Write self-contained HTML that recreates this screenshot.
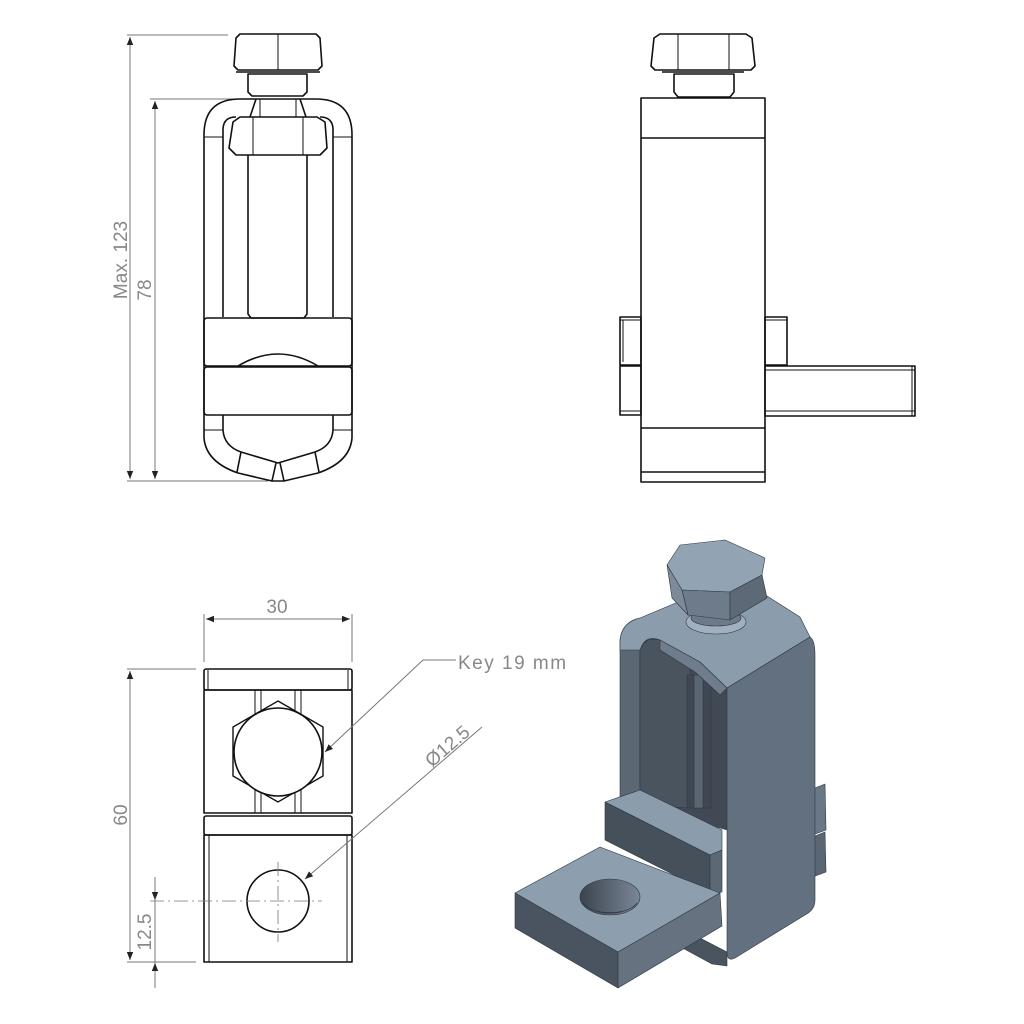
<!DOCTYPE html>
<html><head><meta charset="utf-8"><style>
html,body{margin:0;padding:0;background:#fff;}
svg{display:block;}
.k{fill:none;stroke:#111;stroke-width:1.6;stroke-linejoin:round;}
.t{fill:none;stroke:#111;stroke-width:1;}
.d{fill:none;stroke:#777;stroke-width:1;}
.c{fill:none;stroke:#777;stroke-width:0.8;stroke-dasharray:14 4 2 4;}
.txt{font-family:"Liberation Sans",sans-serif;fill:#888;font-size:19px;font-weight:300;}
</style></head><body>
<svg width="1024" height="1024" viewBox="0 0 1024 1024" xmlns="http://www.w3.org/2000/svg">
<defs>
<marker id="a" viewBox="0 0 10 10" refX="10" refY="5" markerWidth="10" markerHeight="8" orient="auto-start-reverse" markerUnits="userSpaceOnUse"><path d="M0,1 L10,5 L0,9 z" fill="#222"/></marker>
<linearGradient id="h" x1="0" x2="1"><stop offset="0" stop-color="#3b444e"/><stop offset="1" stop-color="#7a8797"/></linearGradient>
</defs>

<!-- ===== Top-left view ===== -->
<line class="d" x1="127" y1="35" x2="228" y2="35"/>
<line class="d" x1="150" y1="99" x2="240" y2="99"/>
<line class="d" x1="127" y1="481" x2="268" y2="481"/>
<line class="d" x1="130" y1="37" x2="130" y2="479" marker-start="url(#a)" marker-end="url(#a)"/>
<line class="d" x1="155" y1="101" x2="155" y2="479" marker-start="url(#a)" marker-end="url(#a)"/>
<text class="txt" transform="translate(127,260) rotate(-90)" text-anchor="middle">Max. 123</text>
<text class="txt" transform="translate(151,290) rotate(-90)" text-anchor="middle">78</text>

<path class="k" d="M236,38 L240,34 L316,34 L320,38 L322,66 L318,70 L238,70 L234,66 Z"/>
<line class="t" x1="278" y1="34" x2="278" y2="70"/>
<line class="k" x1="236" y1="72" x2="320" y2="72"/>
<path class="k" d="M248,74 L307,74 L307,92 L303,96 L252,96 L248,92 Z"/>
<path class="k" d="M204,415 L204,135 Q204,99 240,99 L316,99 Q352,99 352,135 L352,415"/>
<path class="k" d="M223,317 L223,130 Q223,117 236,117 M333,317 L333,130 Q333,117 320,117"/>
<line class="t" x1="204" y1="137" x2="223" y2="137"/><line class="t" x1="333" y1="137" x2="352" y2="137"/>
<path class="k" d="M256,99 L250,117 M300,99 L306,117"/>
<line class="t" x1="260" y1="99" x2="260" y2="117"/><line class="t" x1="296" y1="99" x2="296" y2="117"/>
<path class="k" d="M233,122 L240,117 L317,117 L325,122 L327,148 L320,155 L236,155 L229,148 Z"/>
<line class="t" x1="253" y1="117" x2="253" y2="155"/><line class="t" x1="303" y1="117" x2="303" y2="155"/>
<path class="k" d="M248,155 L248,314 L251,318 L304,318 L307,314 L307,155"/>
<rect class="k" x="204" y="318" width="148" height="48" rx="3"/>
<path class="k" d="M238,366 Q278,342 318,366"/>
<rect class="k" x="204" y="367" width="148" height="48" rx="3"/>
<path class="k" d="M204,415 L204,438 Q206,462 238,473 L272,481 L284,481 L318,473 Q350,462 352,438 L352,415"/>
<path class="k" d="M223,415 L223,430 Q224,446 241,452 L278,463 L315,452 Q332,446 333,430 L333,415"/>
<line class="t" x1="204" y1="430" x2="223" y2="430"/><line class="t" x1="333" y1="430" x2="352" y2="430"/>
<line class="k" x1="241" y1="452" x2="237" y2="472"/><line class="k" x1="315" y1="452" x2="319" y2="472"/>
<line class="k" x1="276" y1="463" x2="272" y2="481"/><line class="k" x1="280" y1="463" x2="284" y2="481"/>

<!-- ===== Top-right view ===== -->
<path class="k" d="M654,38 L660,34 L746,34 L752,38 L755,66 L751,70 L655,70 L651,66 Z"/>
<line class="t" x1="678" y1="34" x2="678" y2="70"/><line class="t" x1="729" y1="34" x2="729" y2="70"/>
<line class="k" x1="662" y1="72" x2="744" y2="72"/>
<path class="k" d="M674,74 L734,74 L734,92 L730,97 L678,97 L674,92 Z"/>
<rect class="k" x="641" y="98" width="124" height="384"/>
<line class="k" x1="641" y1="138" x2="765" y2="138"/>
<line class="k" x1="641" y1="428" x2="765" y2="428"/>
<line class="k" x1="641" y1="472" x2="765" y2="472"/>
<rect class="k" x="620" y="317" width="21" height="48"/>
<line class="t" x1="623" y1="320" x2="623" y2="362"/><line class="t" x1="620" y1="320" x2="641" y2="320"/>
<rect class="k" x="620" y="366" width="21" height="49"/>
<line class="t" x1="620" y1="411" x2="641" y2="411"/>
<rect class="k" x="765" y="317" width="22" height="48"/>
<line class="t" x1="765" y1="320" x2="787" y2="320"/>
<rect class="k" x="765" y="366" width="150" height="50"/>
<line class="t" x1="765" y1="370" x2="915" y2="370"/><line class="t" x1="765" y1="411" x2="915" y2="411"/>
<line class="t" x1="912" y1="366" x2="912" y2="416"/>

<!-- ===== Bottom-left view ===== -->
<line class="d" x1="204" y1="614" x2="204" y2="662"/>
<line class="d" x1="352" y1="614" x2="352" y2="662"/>
<line class="d" x1="206" y1="619" x2="350" y2="619" marker-start="url(#a)" marker-end="url(#a)"/>
<text class="txt" x="277" y="613" text-anchor="middle">30</text>

<rect class="k" x="204" y="669" width="148" height="21" rx="2"/>
<line class="t" x1="208" y1="670" x2="208" y2="689"/><line class="t" x1="348" y1="670" x2="348" y2="689"/>
<rect class="k" x="204" y="690" width="148" height="123"/>
<line class="t" x1="255" y1="690" x2="255" y2="813"/><line class="t" x1="261" y1="690" x2="261" y2="813"/>
<line class="t" x1="295" y1="690" x2="295" y2="813"/><line class="t" x1="301" y1="690" x2="301" y2="813"/>
<polygon points="278,701 323,727 323,776 278,802 233,776 233,727" fill="#fff" stroke="#111" stroke-width="1.4"/>
<circle cx="278" cy="752" r="44" fill="#fff" stroke="#111" stroke-width="1.6"/>
<rect class="k" x="204" y="816" width="148" height="19" rx="2"/>
<rect class="k" x="204" y="835" width="148" height="127"/>
<line class="t" x1="209" y1="835" x2="209" y2="962"/><line class="t" x1="347" y1="835" x2="347" y2="962"/>
<circle class="k" cx="278" cy="901" r="31"/>
<line class="c" x1="150" y1="901" x2="322" y2="901"/>
<line class="c" x1="278" y1="862" x2="278" y2="942"/>

<line class="d" x1="127" y1="669" x2="196" y2="669"/>
<line class="d" x1="127" y1="962" x2="196" y2="962"/>
<line class="d" x1="130" y1="671" x2="130" y2="960" marker-start="url(#a)" marker-end="url(#a)"/>
<text class="txt" transform="translate(127,815) rotate(-90)" text-anchor="middle">60</text>
<line class="d" x1="155" y1="877" x2="155" y2="900" marker-end="url(#a)"/>
<line class="d" x1="155" y1="988" x2="155" y2="963" marker-end="url(#a)"/>
<line class="d" x1="155" y1="900" x2="155" y2="963"/>
<text class="txt" transform="translate(151,932) rotate(-90)" text-anchor="middle">12.5</text>

<polyline class="d" points="456,660 423,660 325,752" marker-end="url(#a)"/>
<text class="txt" x="458" y="669" letter-spacing="1.5">Key 19  mm</text>
<line class="d" x1="482" y1="727" x2="305" y2="879" marker-end="url(#a)"/>
<text class="txt" transform="translate(432,768) rotate(-41)">Ø12.5</text>

<!-- ===== Isometric view ===== -->
<g stroke="#2f3740" stroke-width="0.6" stroke-linejoin="round">
<!-- right tabs -->
<polygon points="810,790 825,784 826,830 810,836" fill="#6a7786"/>
<polygon points="810,838 825,832 826,872 810,878" fill="#5a6674"/>
<!-- bottom piece behind -->
<polygon points="677,945 700,938 727,952 727,966 712,964" fill="#4a545f"/>
<!-- back interior -->
<polygon points="640,640 690,615 727,640 727,830 640,805" fill="#414a54"/>
<!-- left arm outer face -->
<path d="M620,640 Q622,622 640,618 L660,618 L660,640 Q645,636 640,650 L640,805 L620,800 Z" fill="#5c6774"/>
<!-- left arm inner face -->
<path d="M640,650 Q645,636 660,640 L690,660 L690,808 L640,805 Z" fill="#4a545f"/>
<!-- rod -->
<rect x="687" y="675" width="24" height="133" fill="#3f4852"/>
<rect x="694" y="675" width="9" height="133" fill="#5a6571"/>
<!-- top surface of U -->
<path d="M620,640 Q622,622 640,618 L690,597 L767,596 L800,617 L810,637 L727,688 L700,662 L660,640 Q645,634 640,650 L620,650 Z" fill="#8b9cad"/>
<path d="M660,640 L700,662 L727,688 L720,695 L695,672 L660,650 Z" fill="#6f7c8b"/>
<!-- right big face -->
<path d="M727,688 L810,637 Q815,640 815,655 L815,900 Q815,910 805,915 L735,958 Q727,962 727,952 Z" fill="#627080"/>
<!-- washer -->
<ellipse cx="716" cy="622" rx="30" ry="12" fill="#a0b0c0"/>
<ellipse cx="716" cy="618" rx="25" ry="8" fill="#6d7a89"/>
<!-- bolt head -->
<polygon points="667,565 680,545 725,540 765,558 762,575 730,592 682,590" fill="#92a3b4"/>
<polygon points="682,590 730,592 730,620 688,615" fill="#6e7b8a"/>
<polygon points="730,592 762,575 767,598 730,620" fill="#5d6976"/>
<polygon points="667,565 682,590 688,615 672,598" fill="#7c8a99"/>
<!-- step block -->
<polygon points="605,802 640,790 722,830 722,850 710,855" fill="#8b9cad"/>
<polygon points="605,802 710,855 710,893 605,840" fill="#45505b"/>
<polygon points="710,855 722,850 722,892 710,895" fill="#5d6875"/>
<!-- lug -->
<polygon points="515,893 600,847 720,893 618,952" fill="#8d9eaf"/>
<polygon points="515,893 618,952 618,988 515,928" fill="#4a5460"/>
<polygon points="618,952 720,893 722,926 618,988" fill="#66727f"/>
<ellipse cx="610" cy="897" rx="30" ry="18" fill="url(#h)"/>
<path d="M583,903 A28,13 0 0 0 637,903 A30,18 0 0 1 583,903 Z" fill="#7c8a99"/>
</g>
</svg>
</body></html>
